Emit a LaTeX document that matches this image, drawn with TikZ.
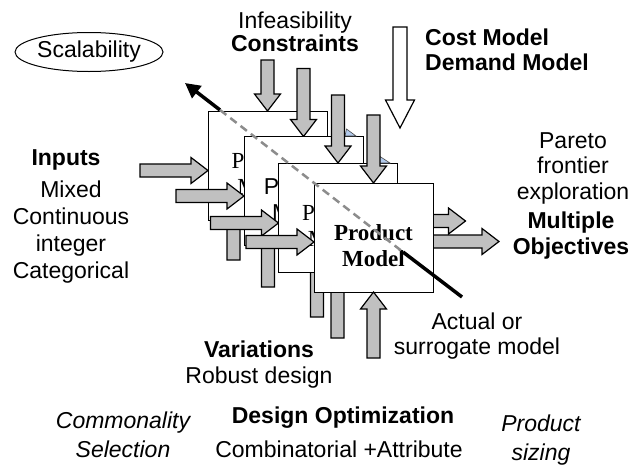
\documentclass[tikz,border=0pt]{standalone}
\usepackage{fontspec}
\setmainfont{Liberation Sans}
\newfontfamily\timesfont{Liberation Serif}
\usepackage{tikz}
\usetikzlibrary{positioning, arrows.meta, calc, shapes.geometric}

\definecolor{arrowgray}{RGB}{192,192,192}
\definecolor{cornerblue}{RGB}{178,202,236}

% fat block arrow: tip, direction angle, total length
\newcommand{\blockarrow}[4][fill=arrowgray]{%
  \draw[line width=1.2pt, #1, shift={#2}, rotate=#3]
    (0,0) -- (-17,-13) -- (-17,-6.5) -- (-#4,-6.5) -- (-#4,6.5) -- (-17,6.5) -- (-17,13) -- cycle;}

\begin{document}
\begin{tikzpicture}[x=1pt, y=-1pt,
    pmbox/.style={draw, line width=1pt, fill=white, minimum width=119pt, minimum height=109pt, inner sep=0pt},
    boxtext/.style={font=\timesfont\fontsize{23}{26}\selectfont, align=center, inner sep=0pt},
    lbl/.style={font=\fontsize{23}{27}\selectfont, align=center, inner sep=0pt}]
    \useasboundingbox (0,0) rectangle (644,466);

    \coordinate (c1) at (267.5,165.5);
    \coordinate (c2) at (303.5,191);
    \coordinate (c3) at (338,217.5);
    \coordinate (c4) at (373.5,237.5);

    % first copy of the model
    \blockarrow{($(c1)+(0,-54.5)$)}{-90}{51}
    \blockarrow{($(c1)+(-59.5,5)$)}{0}{68}
    \blockarrow{($(c1)+(-34,26.5)$)}{90}{68}
    \node[pmbox] (b1) at (c1) {};
    \node[boxtext] (t1) at ($(c1)+(0,8)$) {Product\\Model};

    % second copy
    \blockarrow{($(c2)+(0,-54.5)$)}{-90}{68}
    \blockarrow{($(c2)+(-59.5,5)$)}{0}{68}
    \blockarrow{($(c2)+(-35.5,28)$)}{90}{68}
    \node[pmbox] (b2) at (c2) {};
    \node[boxtext, font=\fontsize{23}{26}\selectfont] (t2) at ($(c2)+(0,8)$) {Product\\Model};

    % third copy
    \filldraw[fill=cornerblue, draw=black!70, line width=0.6pt] (346.5,129) -- (345,136) -- (356,136) -- cycle;
    \blockarrow{($(c3)+(0,-54.5)$)}{-90}{68}
    \blockarrow{($(c3)+(-59.5,5.5)$)}{0}{68}
    \blockarrow{($(c3)+(-21,31.5)$)}{90}{68}
    \blockarrow{($(c3)+(127.5,3.5)$)}{0}{68}
    \node[pmbox] (b3) at (c3) {};
    \node[boxtext] (t3) at ($(c3)+(0,8)$) {Product\\Model};

    % front copy
    \filldraw[fill=cornerblue, draw=black!70, line width=0.6pt] (380,156.5) -- (379,163) -- (390,163) -- cycle;
    \blockarrow{($(c4)+(0,-54.5)$)}{-90}{68}
    \blockarrow{($(c4)+(-59.5,4.5)$)}{0}{68}
    \blockarrow{($(c4)+(-36,32.5)$)}{90}{68}
    \blockarrow{($(c4)+(125.5,4)$)}{0}{68}
    \node[pmbox] (b4) at (c4) {};
    \node[boxtext, font=\timesfont\bfseries\fontsize{23}{26}\selectfont] (t4) at ($(c4)+(0,8)$) {Product\\Model};
    \blockarrow{($(c4)+(0,54.5)$)}{90}{66}

    % cost / demand arrow
    \draw[line width=1.2pt, fill=white] (400,128) -- (385.5,100) -- (393,100) -- (393,27) -- (407,27) -- (407,100) -- (414.5,100) -- cycle;

    \node[draw, ellipse, line width=1pt, minimum width=148pt, minimum height=39pt, inner sep=0pt,
        font=\fontsize{23}{27}\selectfont] (scal) at (89,52) {Scalability};

    \coordinate (sc) at (185,83);
    \coordinate (k) at (220,110);
    \coordinate (d) at (403,252);
    \coordinate (sur) at (462,297);
    \draw[line width=3.5pt, -{Triangle[length=15pt, width=15pt]}] (k) -- (sc);
    \draw[black!45, line width=2.5pt, dash pattern=on 8pt off 5pt] (k) -- (d);
    \draw[line width=3.5pt] (d) -- (sur);

    % labels
    \node[lbl, font=\fontsize{23}{23}\selectfont] (cons) at (295,32) {Infeasibility\\\textbf{Constraints}};
    \node[lbl, anchor=west, align=left, font=\bfseries\fontsize{23}{25}\selectfont] (cost) at (425,50) {Cost Model\\Demand Model};
    \node[lbl, anchor=base, font=\bfseries\fontsize{23}{27}\selectfont] (inp) at (66,165) {Inputs};
    \node[lbl, font=\fontsize{23}{27.3}\selectfont] (kinds) at (71,232) {Mixed\\Continuous\\integer\\Categorical};
    \node[lbl, font=\fontsize{23}{25.5}\selectfont] (pareto) at (573,168) {Pareto\\frontier\\exploration};
    \node[lbl, font=\bfseries\fontsize{23}{26}\selectfont] (obj) at (571,236) {Multiple\\Objectives};
    \node[lbl, font=\fontsize{23}{25}\selectfont] (act) at (477,336) {Actual or\\surrogate model};
    \node[lbl, font=\fontsize{23}{26}\selectfont] (var) at (259,365) {\textbf{Variations}\\Robust design};
    \node[lbl, anchor=base, font=\bfseries\fontsize{23}{27}\selectfont] (dopt) at (343,423) {Design Optimization};
    \node[lbl, anchor=base] (comb) at (339,457) {Combinatorial +Attribute};
    \node[lbl, font=\itshape\fontsize{23}{29}\selectfont] (comm) at (123,435) {Commonality\\Selection};
    \node[lbl, font=\itshape\fontsize{23}{29}\selectfont] (size) at (541,440) {Product\\sizing};
\end{tikzpicture}
\end{document}
